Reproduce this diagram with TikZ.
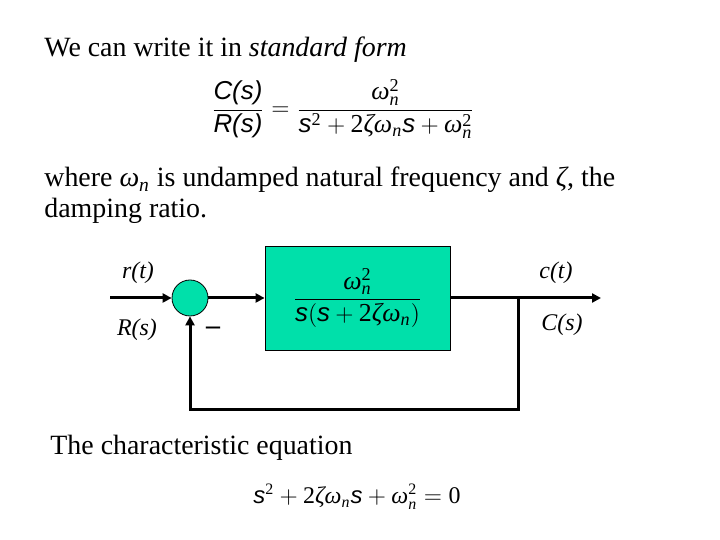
\documentclass[tikz,border=0pt]{standalone}
\usepackage{amsmath}
\usepackage{fontspec}
\setmainfont{Liberation Serif}
\newfontfamily\eqsans{Liberation Sans}
\usetikzlibrary{arrows.meta}
\definecolor{blockgreen}{RGB}{0,224,170}
\newcommand{\wn}{\textit{ω}}
\newcommand{\zt}{\textit{ζ}}
\newcommand{\sv}{\text{\eqsans\itshape s}}
\newcommand{\tx}[1]{\text{#1}}
\tikzset{
    txt/.style={anchor=base west, inner sep=0pt},
    wire/.style={line width=1.5bp},
    sig/.style={wire, -{Triangle[length=4.5bp,width=4.5bp]}},
    lbl/.style={font=\fontsize{12}{14}\selectfont\itshape}
}
\begin{document}
\begin{tikzpicture}[x=0.5bp, y=-0.5bp, font=\fontsize{14}{16}\selectfont]
    \useasboundingbox (0,0) rectangle (720,540);

    % Text
    \node[txt] (intro) at (44,57) {We can write it in \textit{standard form}};
    \node[font=\fontsize{13}{15}\selectfont] (stdform) at (343,109) {$\dfrac{\text{\eqsans\itshape C(s)}}{\text{\eqsans\itshape R(s)}} = \dfrac{\wn^{\tx{2}}_{\textit{n}}}{\sv^{\tx{2}} + \tx{2}\zt\wn_{\textit{n}}\sv + \wn^{\tx{2}}_{\textit{n}}}$};
    \node[txt] (where) at (44,187) {where \wn$_{\textit{n}}$ is undamped natural frequency and \zt, the};
    \node[txt] (ratio) at (44,218) {damping ratio.};

    % Block diagram
    \coordinate (in) at (110,298);
    \node[circle, draw, fill=blockgreen, minimum size=18bp, inner sep=0pt] (sum) at (190,298) {};
    \node[draw, fill=blockgreen, minimum width=92.5bp, minimum height=52bp, font=\fontsize{13}{15}\selectfont] (plant) at (357.5,298) {$\dfrac{\wn^{\tx{2}}_{\textit{n}}}{\sv(\sv + \tx{2}\zt\wn_{\textit{n}})}$};
    \coordinate (branch) at (518,298);
    \coordinate (out) at (601,298);
    \coordinate (fbr) at (518,410);
    \coordinate (fbl) at (190,410);

    \draw[sig] (in) -- (sum);
    \draw[sig] (sum) -- (plant);
    \draw[sig] (plant) -- (out);
    \draw[sig] (branch) -- (fbr) -- (fbl) -- (sum);

    % Signal labels
    \node[lbl] (rt) at (138,273) {r(t)};
    \node[lbl] (Rs) at (137,330) {R(s)};
    \node[font=\fontsize{14}{16}\selectfont\bfseries] (minus) at (213,331) {--};
    \node[lbl] (ct) at (556,273) {c(t)};
    \node[lbl] (Cs) at (562,325) {C(s)};

    % Characteristic equation
    \node[txt] (chareq) at (50,454) {The characteristic equation};
    \node[font=\fontsize{12}{14}\selectfont] (charpoly) at (357,497) {$\sv^{\tx{2}} + \tx{2}\zt\wn_{\textit{n}}\sv + \wn^{\tx{2}}_{\textit{n}} = \tx{0}$};
\end{tikzpicture}
\end{document}
